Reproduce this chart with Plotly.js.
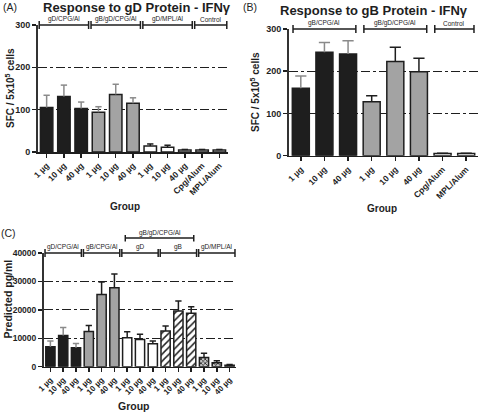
<!DOCTYPE html>
<html><head><meta charset="utf-8">
<script src="https://cdn.plot.ly/plotly-3.0.1.min.js"></script>
<style>html,body{margin:0;padding:0;background:#fff}#chart{width:480px;height:413px}</style>
</head><body><div id="chart"></div>
<script>
// ---------- Panel A: Response to gD Protein - IFNγ ----------
const aLabels = ["1 µg","10 µg","40 µg","1 µg","10 µg","40 µg","1 µg","10 µg","40 µg","Cpg/Alum","MPL/Alum"];
const aValues = [105,131,103,94,136,115,14,11,5,5,5];
const aErrors = [29,27,15,13,24,13,5,5,1,1,1];
const aGroupNames = ["gD/CPG/Al","gB/gD/CPG/Al","gD/MPL/Al","Control"];
const aGroupSizes = [3,3,3,2];
const aTicks = [0,100,200,300];

// ---------- Panel B: Response to gB Protein - IFNγ ----------
const bLabels = ["1 µg","10 µg","40 µg","1 µg","10 µg","40 µg","Cpg/Alum","MPL/Alum"];
const bValues = [160,245,241,128,223,199,5,5];
const bErrors = [29,23,31,14,34,32,1,1];
const bGroupNames = ["gB/CPG/Al","gB/gD/CPG/Al","Control"];
const bGroupSizes = [3,3,2];
const bTicks = [0,100,200,300];

// ---------- Panel C: Predicted pg/ml ----------
const cLabels = ["1 µg","10 µg","40 µg","1 µg","10 µg","40 µg","1 µg","10 µg","40 µg","1 µg","10 µg","40 µg","1 µg","10 µg","40 µg"];
const cValues = [7000,11000,6700,12400,25400,27800,10200,9600,8100,12600,19600,18800,3200,1400,550];
const cErrors = [2000,2800,1500,2100,4400,4800,2100,1800,950,1700,3500,2300,1500,700,250];
const cGroupNames = ["gD/CPG/Al","gB/CPG/Al","gD","gB","gD/MPL/Al"];
const cGroupSizes = [3,3,3,3,3];
const cSuperGroupName = "gB/gD/CPG/Al";
const cSuperGroups = [2,3];
const cTicks = [0,10000,20000,30000,40000];

// ---------- styles ----------
const W = 480, H = 413;
const FONT = "Liberation Sans, Arial, sans-serif";
const DARK = "#1e1e1e";
const ERRGRAY = "#8a8a8a";
const sBlack = {color: DARK, line: {color: DARK, width: 1.5}, err: ERRGRAY};
const sGrayA = {color: "#a3a3a3", line: {color: DARK, width: 1.5}, err: ERRGRAY};
const sGray = {color: "#a3a3a3", line: {color: DARK, width: 1.5}, err: DARK};
const sWhite = {color: "#ffffff", line: {color: DARK, width: 1.5}, err: DARK};
const sHatch = {color: "#ffffff", line: {color: DARK, width: 1.5}, err: DARK,
  pattern: {shape: "/", fgcolor: DARK, bgcolor: "#ffffff", size: 5, solidity: 0.3}};
const sCheck = {color: "#777", line: {color: DARK, width: 1.5}, err: DARK,
  pattern: {shape: "x", fgcolor: "#222", bgcolor: "#c8c8c8", size: 3, solidity: 0.45}};

const panels = [
  {labels: aLabels, values: aValues, errors: aErrors, names: aGroupNames, sizes: aGroupSizes, ticks: aTicks,
   styles: [sBlack, sGrayA, sWhite, sWhite], xa: "x", ya: "y", cap: 4.5, inset: 0.07,
   xdom: [38, 228], ytop: 25, ybot: 152, tickSize: 8.5, yTickSize: 9},
  {labels: bLabels, values: bValues, errors: bErrors, names: bGroupNames, sizes: bGroupSizes, ticks: bTicks,
   styles: [sBlack, sGray, sWhite], xa: "x2", ya: "y2", cap: 8, inset: 0.17,
   xdom: [289, 478], ytop: 29, ybot: 155.7, tickSize: 8.5, yTickSize: 9},
  {labels: cLabels, values: cValues, errors: cErrors, names: cGroupNames, sizes: cGroupSizes, ticks: cTicks,
   styles: [sBlack, sGray, sWhite, sHatch, sCheck], xa: "x3", ya: "y3", cap: 4.5, inset: 0.08,
   xdom: [44, 236], ytop: 253, ybot: 366.7, tickSize: 8, yTickSize: 8.5}
];

const traces = [], shapes = [], annotations = [];
const layout = {
  width: W, height: H, margin: {l: 0, r: 0, t: 0, b: 0},
  paper_bgcolor: "#fff", plot_bgcolor: "#fff", showlegend: false,
  barmode: "overlay", bargap: 0.28,
  font: {family: FONT, color: DARK}
};

panels.forEach((p, k) => {
  const n = p.values.length;
  const idxAll = p.values.map((_, i) => i);
  const sfx = k === 0 ? "" : String(k + 1);
  layout["xaxis" + sfx] = {
    domain: [p.xdom[0] / W, p.xdom[1] / W], anchor: p.ya, range: [-0.5, n - 0.5],
    tickmode: "array", tickvals: idxAll, ticktext: p.labels, tickangle: -45,
    ticks: "outside", ticklen: 4, tickwidth: 1.5, tickcolor: DARK,
    showline: true, linewidth: 1.5, linecolor: DARK, showgrid: false, zeroline: false,
    tickfont: {family: FONT, size: p.tickSize, weight: "bold", color: DARK}, fixedrange: true
  };
  const ymax = p.ticks[p.ticks.length - 1];
  layout["yaxis" + sfx] = {
    domain: [1 - p.ybot / H, 1 - p.ytop / H], anchor: p.xa, range: [0, ymax],
    tickmode: "array", tickvals: p.ticks, ticktext: p.ticks.map(v => String(v)),
    ticks: "outside", ticklen: 4, tickwidth: 1.5, tickcolor: DARK,
    showline: true, linewidth: 2, linecolor: "#333", zeroline: false,
    showgrid: true, gridcolor: DARK, gridwidth: 1, griddash: "dashdot",
    tickfont: {family: FONT, size: p.yTickSize, weight: "bold", color: DARK}, fixedrange: true
  };

  let start = 0;
  const yTop = 1 - p.ytop / H;
  p.sizes.forEach((size, g) => {
    const idx = [];
    for (let i = start; i < start + size; i++) idx.push(i);
    const st = p.styles[g];
    const marker = {color: st.color, line: st.line};
    if (st.pattern) marker.pattern = st.pattern;
    traces.push({
      type: "bar", x: idx, y: idx.map(i => p.values[i]), xaxis: p.xa, yaxis: p.ya,
      marker: marker, hoverinfo: "skip",
      error_y: {type: "data", symmetric: false, array: idx.map(i => p.errors[i]),
        arrayminus: idx.map(() => 0), color: st.err, thickness: 1.5, width: 0}
    });
    // error-bar caps
    traces.push({
      type: "scatter", mode: "markers", x: idx, y: idx.map(i => p.values[i] + p.errors[i]),
      xaxis: p.xa, yaxis: p.ya, hoverinfo: "skip",
      marker: {symbol: "line-ew", size: p.cap, color: st.err, line: {color: st.err, width: 1.5}}
    });
    // group brackets along the top
    const x0 = start - 0.5 + p.inset, x1 = start + size - 0.5 - p.inset;
    shapes.push({type: "line", xref: p.xa, yref: "paper", x0: x0, x1: x1, y0: yTop, y1: yTop,
      line: {color: DARK, width: 1.5}});
    [x0, x1].forEach(x => shapes.push({type: "line", xref: p.xa, yref: "paper", x0: x, x1: x,
      y0: yTop - 4 / H, y1: yTop + 4 / H, line: {color: DARK, width: 1.5}}));
    annotations.push({xref: p.xa, yref: "paper", x: (x0 + x1) / 2, y: yTop + 5.5 / H,
      text: p.names[g], showarrow: false, yanchor: "middle", borderpad: 0,
      font: {family: FONT, size: 6.5, color: DARK}});
    start += size;
  });
});

// panel C super-bracket
(function () {
  const p = panels[2];
  let s = 0; const starts = [];
  p.sizes.forEach(sz => { starts.push(s); s += sz; });
  const g0 = cSuperGroups[0], g1 = cSuperGroups[cSuperGroups.length - 1];
  const x0 = starts[g0] - 0.5 + 0.35, x1 = starts[g1] + p.sizes[g1] - 0.5 - 0.3;
  const yL = 1 - 238 / H;
  shapes.push({type: "line", xref: p.xa, yref: "paper", x0: x0, x1: x1, y0: yL, y1: yL,
    line: {color: DARK, width: 1.5}});
  [x0, x1].forEach(x => shapes.push({type: "line", xref: p.xa, yref: "paper", x0: x, x1: x,
    y0: yL - 3.5 / H, y1: yL + 3 / H, line: {color: DARK, width: 1.5}}));
  annotations.push({xref: p.xa, yref: "paper", x: (x0 + x1) / 2, y: yL + 5.5 / H,
    text: cSuperGroupName, showarrow: false, yanchor: "middle", borderpad: 0,
    font: {family: FONT, size: 6.5, color: DARK}});
})();

function txt(text, px, py, size, bold, angle) {
  annotations.push({xref: "paper", yref: "paper", x: px / W, y: 1 - py / H, text: text,
    showarrow: false, xanchor: "center", yanchor: "middle", textangle: angle || 0, borderpad: 0,
    font: {family: FONT, size: size, color: DARK, weight: bold ? "bold" : "normal"}});
}
txt("(A)", 10, 7, 10.5, false);
txt("Response to gD Protein - IFNγ", 136.5, 8, 13, true);
txt("(B)", 250, 7, 10.5, false);
txt("Response to gB Protein - IFNγ", 374, 10, 13, true);
txt("(C)", 8, 233, 10.5, false);
txt("SFC / 5x10<sup>5</sup> cells", 10, 88, 10, true, -90);
txt("SFC / 5x10<sup>5</sup> cells", 255, 92, 10, true, -90);
txt("Predicted pg/ml", 7.5, 299, 10.5, true, -90);
txt("Group", 125, 206, 10, true);
txt("Group", 382, 209, 10, true);
txt("Group", 134, 406, 10.5, true);

layout.shapes = shapes;
layout.annotations = annotations;
Plotly.newPlot("chart", traces, layout, {staticPlot: true, displayModeBar: false});
</script></body></html>
